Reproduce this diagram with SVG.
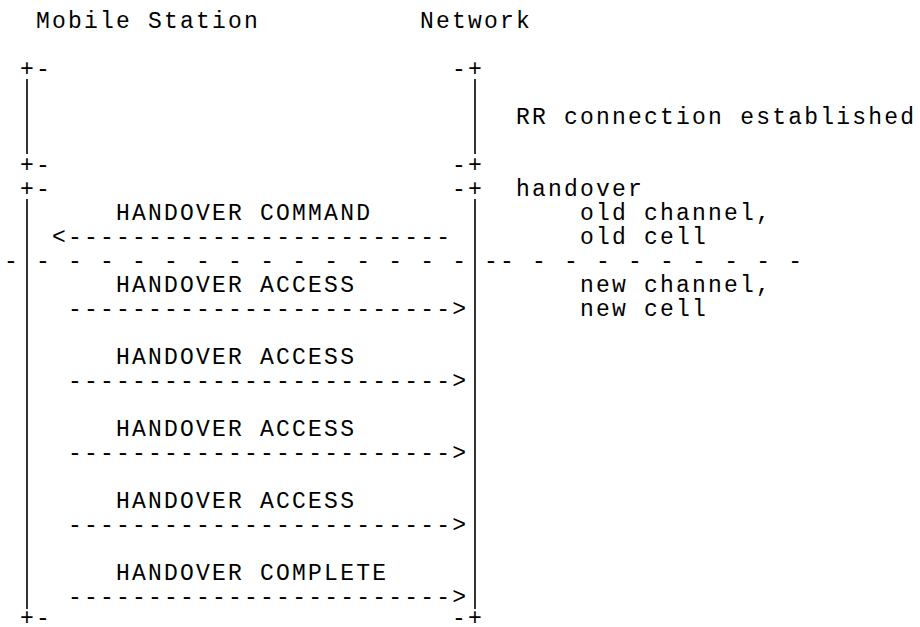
<svg xmlns="http://www.w3.org/2000/svg" width="920" height="627" viewBox="0 0 920 627">
<style>
text{font-family:"Liberation Mono","Courier New",monospace;font-size:23px;letter-spacing:2.2px;fill:#000;white-space:pre}
.life{stroke:#000;stroke-width:1.6;fill:none}
</style>
<rect width="920" height="627" fill="#fff"/>
<g id="mobile-station">
<text x="36.1" y="28">Mobile Station</text>
<text x="20.1" y="76">+-</text>
<text x="20.1" y="172">+-</text>
<text x="20.1" y="196">+-</text>
<text x="20.1" y="625">+-</text>
</g>
<g id="network">
<text x="420.1" y="28">Network</text>
<text x="452.1" y="76">-+</text>
<text x="452.1" y="172">-+</text>
<text x="452.1" y="196">-+</text>
<text x="452.1" y="625">-+</text>
</g>
<g id="notes">
<text x="516.1" y="124">RR connection established</text>
<text x="516.1" y="196">handover</text>
<text x="580.1" y="220">old channel,</text>
<text x="580.1" y="244">old cell</text>
<text x="580.1" y="292">new channel,</text>
<text x="580.1" y="316">new cell</text>
</g>
<g id="separator">
<text x="4.1" y="268">-</text>
<text x="36.1" y="268">- - - - - - - - - - - - - -</text>
<text x="484.1" y="268">-- - - - - - - - - -</text>
</g>
<g id="messages">
<text x="116.1" y="220">HANDOVER COMMAND</text>
<text x="116.1" y="292">HANDOVER ACCESS</text>
<text x="116.1" y="364">HANDOVER ACCESS</text>
<text x="116.1" y="436">HANDOVER ACCESS</text>
<text x="116.1" y="508">HANDOVER ACCESS</text>
<text x="116.1" y="580">HANDOVER COMPLETE</text>
</g>
<g id="connectors">
<line class="life" x1="27" y1="79" x2="27" y2="154"/>
<line class="life" x1="475" y1="79" x2="475" y2="154"/>
<line class="life" x1="27" y1="199" x2="27" y2="609"/>
<line class="life" x1="475" y1="199" x2="475" y2="609"/>
<text x="52.1" y="244">&lt;------------------------</text>
<text x="68.1" y="316">------------------------&gt;</text>
<text x="68.1" y="388">------------------------&gt;</text>
<text x="68.1" y="460">------------------------&gt;</text>
<text x="68.1" y="532">------------------------&gt;</text>
<text x="68.1" y="604">------------------------&gt;</text>
</g>
</svg>
